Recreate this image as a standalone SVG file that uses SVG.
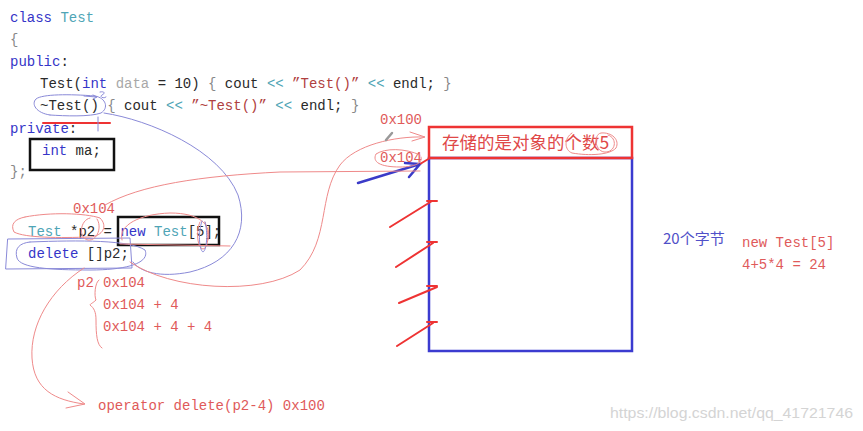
<svg xmlns="http://www.w3.org/2000/svg" width="863" height="431" viewBox="0 0 863 431">
<style>
.code{font-family:"Liberation Mono","DejaVu Sans Mono",monospace;font-size:14px;fill:#2a2a2a}
.kw{fill:#3535c8}
.ty{fill:#4fa5b6}
.gr{fill:#a8a8a8}
.st{fill:#b04040}
.br{fill:#888}
.rd{font-family:"Liberation Mono","DejaVu Sans Mono",monospace;font-size:14px;fill:#e05a5a}
.cjk{font-family:"Noto Sans CJK SC","Liberation Serif",serif}
.pen-r{fill:none;stroke:#ee3333;stroke-width:2;stroke-linecap:round}
.pen-b{fill:none;stroke:#3b3bc8;stroke-width:2.5;stroke-linecap:round}
.thin-r{fill:none;stroke:#ef8a8a;stroke-width:1;stroke-linecap:round}
.thin-b{fill:none;stroke:#8a8ad8;stroke-width:1;stroke-linecap:round}
.box{fill:none;stroke:#111;stroke-width:2.5}
</style>

<g id="code" class="code" xml:space="preserve">
<text x="10" y="22"><tspan class="kw">class</tspan> <tspan class="ty">Test</tspan></text>
<text x="10" y="44" class="br">{</text>
<text x="10" y="66"><tspan class="kw">public</tspan>:</text>
<text x="40" y="88">Test(<tspan class="kw">int</tspan> <tspan class="gr">data</tspan> = 10) <tspan class="br">{</tspan> cout <tspan class="ty">&lt;&lt;</tspan> <tspan class="st">”Test()”</tspan> <tspan class="ty">&lt;&lt;</tspan> endl; <tspan class="br">}</tspan></text>
<text x="40" y="110">~Test() <tspan class="br">{</tspan> cout <tspan class="ty">&lt;&lt;</tspan> <tspan class="st">”~Test()”</tspan> <tspan class="ty">&lt;&lt;</tspan> endl; <tspan class="br">}</tspan></text>
<text x="10" y="133"><tspan class="kw">private</tspan>:</text>
<text x="42" y="155"><tspan class="kw">int</tspan> ma;</text>
<text x="10" y="176" class="br">};</text>
<text x="28" y="236"><tspan class="ty">Test</tspan> *p2 = <tspan class="kw">new</tspan> <tspan class="ty">Test</tspan>[5];</text>
<text x="28" y="258"><tspan class="kw">delete</tspan> []p2;</text>
</g>

<g id="code-boxes">
<rect class="box" x="30" y="139" width="84" height="31"/>
<rect class="box" x="118" y="217" width="101" height="28"/>
</g>

<g id="memory">
<rect x="429" y="158" width="203" height="193" fill="none" stroke="#3b3bd0" stroke-width="2.5"/>
<rect x="429" y="127" width="203" height="31" fill="none" stroke="#ee3333" stroke-width="2.5"/>
<text x="442" y="149" class="cjk" font-size="17.5" fill="#e04848">存储的是对象的个数5</text>
<path class="thin-r" d="M572,133 C564,138 564,150 572,153 C589,156 610,155 616,148 C620,140 612,132 601,133 C594,134 594,150 604,152 C616,153 618,138 608,135"/>
</g>

<g id="labels">
<text x="380" y="124" class="rd">0x100</text>
<text x="380" y="162" class="rd">0x104</text>
<text x="73" y="213" class="rd">0x104</text>
<text x="77" y="287" class="rd">p2</text>
<text x="103" y="287" class="rd">0x104</text>
<text x="103" y="309" class="rd">0x104 + 4</text>
<text x="103" y="331" class="rd">0x104 + 4 + 4</text>
<text x="98" y="410" class="rd">operator delete(p2-4) 0x100</text>
<text x="663" y="244" class="cjk" font-size="15" fill="#5050c8">20个字节</text>
<text x="742" y="247" class="rd">new Test[5]</text>
<text x="742" y="269" class="rd">4+5*4 = 24</text>
<text x="610" y="418" font-family="Liberation Sans,Arial,sans-serif" font-size="15" fill="#d4d4d4" textLength="243" lengthAdjust="spacingAndGlyphs">https://blog.csdn.net/qq_41721746</text>
</g>

<g id="connectors">
<path class="pen-r" d="M390,227 L432,201 M427,201 L437,201"/>
<path class="pen-r" d="M396,267 L433,243 M427,242 L437,242"/>
<path class="pen-r" d="M399,303 L437,287 M427,286 L437,286"/>
<path class="pen-r" d="M397,346 L433,323 M427,322 L437,322"/>
<path class="pen-b" d="M358,183 L420,164 M405,163 L420,164 L409,177"/>
<path d="M420,164 L430,158" stroke="#ee3333" stroke-width="2" fill="none"/>
<path class="pen-r" d="M43,123 L110,123"/>
<path class="thin-b" d="M98,117 L98,131"/>
<path class="thin-b" d="M50,115 C36,113 31,104 36,99 C42,94 70,94 95,96 C106,98 109,108 101,113 C90,117 65,116 50,115"/>
<path class="thin-b" d="M84,96 L96,97 M93,95 L97,97 L93,99 M100,92 C104,91 106,93 102,95 C99,97 104,99 106,97"/>
<path class="thin-b" d="M104,113 C150,120 220,150 238,195 C250,232 232,262 190,272 C160,278 140,272 133,262"/>
<path class="thin-b" d="M8,239 L130,238 L132,268 L6,269 Z"/>
<path class="thin-b" d="M30,242 C80,240 130,240 145,250 C150,262 130,270 90,270 C50,270 20,268 17,258 C14,248 20,243 30,242"/>
<path class="thin-r" d="M25,217 C50,212 85,213 100,218 C108,226 103,236 90,237 C60,238 25,238 14,232 C10,224 15,219 25,217"/>
<path class="thin-r" d="M90,218 C80,220 78,238 88,240 C98,241 102,226 97,219"/>
<path class="thin-r" d="M122,240 C118,225 140,214 170,213 C200,213 212,225 208,240"/>
<path class="thin-r" d="M200,222 C196,230 197,248 203,249 C209,248 209,232 205,222"/>
<path class="thin-b" d="M202,221 C198,232 199,250 203,252 C207,250 208,232 205,222"/>
<path class="thin-r" d="M120,244 L230,246"/>
<path class="thin-r" d="M105,205 C140,185 200,176 280,172 L420,171"/>
<path class="thin-r" d="M420,155 C405,148 385,148 376,154 C372,162 380,167 400,167 C415,167 423,163 421,157"/>
<path class="thin-r" d="M130,262 C170,290 260,296 300,270 C330,240 318,195 340,165 C355,145 395,136 424,137"/>
<path class="thin-r" d="M410,132 L425,137 L412,141"/>
<path d="M386,140 L392,133" stroke="#999" stroke-width="2.5" stroke-linecap="round"/>
<path class="thin-r" d="M99,280 C95,282 94,296 96,300 C93,303 90,304 90,305 C94,308 96,312 96,320 C96,335 97,345 102,348"/>
<path class="thin-r" d="M84,268 C50,290 30,325 32,358 C34,390 55,400 84,404 M68,392 L85,404 L66,408"/>
</g>
</svg>
